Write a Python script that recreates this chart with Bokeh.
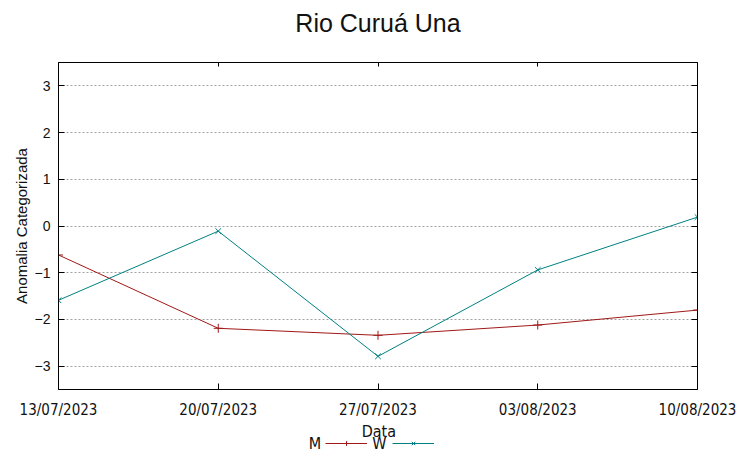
import pandas as pd
from bokeh.plotting import figure
from bokeh.layouts import column
from bokeh.models import (Legend, LegendItem, Label, FixedTicker, LinearAxis,
                          Range1d, CustomJSTickFormatter)
from bokeh.embed import file_html
from bokeh.resources import INLINE

# ---- data ----
dates = ["13/07/2023", "20/07/2023", "27/07/2023", "03/08/2023", "10/08/2023"]
m_vals = [-0.62, -2.19, -2.34, -2.12, -1.80]
w_vals = [-1.59, -0.11, -2.79, -0.94, 0.19]
y_ticks = [-3, -2, -1, 0, 1, 2, 3]
series_names = ["M", "W"]

title = "Rio Curuá Una"
y_label = "Anomalia Categorizada"
x_label = "Data"

M_COLOR = "#a01818"
W_COLOR = "#008080"
NARROW = "DejaVu Sans Condensed, Liberation Sans"
TXT = "#111111"

dt = pd.to_datetime(dates, dayfirst=True)
xms = [float(d.value // 10**6) for d in dt]

W_TOTAL, H0, H1, H2 = 752, 40, 381, 38


def strip(h):
    s = figure(width=W_TOTAL, height=h, output_backend="svg", toolbar_location=None,
               x_range=Range1d(0, W_TOTAL), y_range=Range1d(h, 0),
               x_axis_location=None, y_axis_location=None,
               min_border_left=0, min_border_right=0, min_border_top=0,
               min_border_bottom=0)
    s.outline_line_color = None
    s.grid.visible = False
    s.background_fill_color = "white"
    s.border_fill_color = "white"
    return s


# ---- title strip ----
p0 = strip(H0)
p0.add_layout(Label(x=376, y=22, text=title, text_font="Liberation Sans",
                    text_font_size="25px", text_color=TXT, text_align="center",
                    text_baseline="middle"))

# ---- main plot ----
p = figure(width=W_TOTAL, height=H1, output_backend="svg", toolbar_location=None,
           x_axis_type="datetime", x_range=Range1d(xms[0], xms[-1]),
           y_range=Range1d(-3.5, 3.5),
           min_border_left=58, min_border_right=55, min_border_top=22,
           min_border_bottom=32)
p.background_fill_color = "white"
p.border_fill_color = "white"
p.outline_line_color = "black"
p.outline_line_width = 1

labels_map = {x: s for x, s in zip(xms, dates)}

xa = p.xaxis[0]
xa.ticker = FixedTicker(ticks=xms)
xa.major_label_overrides = labels_map
xa.major_label_text_font = NARROW
xa.major_label_text_font_size = "15px"
xa.major_label_text_color = TXT
xa.major_label_standoff = 11
xa.major_tick_in = 6
xa.major_tick_out = 0
xa.minor_tick_in = 0
xa.minor_tick_out = 0
xa.axis_line_color = "black"

ya = p.yaxis[0]
ya.ticker = FixedTicker(ticks=y_ticks)
ya.major_label_text_font = "Liberation Sans"
ya.major_label_text_font_size = "14px"
ya.major_label_text_color = TXT
ya.major_label_standoff = 8
ya.major_tick_in = 6
ya.major_tick_out = 0
ya.minor_tick_in = 0
ya.minor_tick_out = 0
ya.axis_line_color = "black"
ya.axis_label = y_label
ya.axis_label_text_font = "Liberation Sans"
ya.axis_label_text_font_size = "15px"
ya.axis_label_text_font_style = "normal"
ya.axis_label_text_color = TXT
ya.axis_label_standoff = 2

blank = CustomJSTickFormatter(code="return '';")

ra = LinearAxis(ticker=FixedTicker(ticks=y_ticks), major_tick_in=6, major_tick_out=0,
                minor_tick_in=0, minor_tick_out=0, formatter=blank,
                major_label_text_font_size="1px",
                axis_line_color="black", major_label_standoff=0)
p.add_layout(ra, "right")
ta = LinearAxis(ticker=FixedTicker(ticks=xms), major_tick_in=4, major_tick_out=0,
                minor_tick_in=0, minor_tick_out=0, formatter=blank,
                major_label_text_font_size="1px",
                axis_line_color="black", major_label_standoff=0)
p.add_layout(ta, "above")

p.xgrid.visible = False
p.ygrid.ticker = FixedTicker(ticks=y_ticks)
p.ygrid.grid_line_color = "#a0a0a0"
p.ygrid.grid_line_dash = "2 2"
p.ygrid.grid_line_width = 1

p.line(xms, m_vals, line_color=M_COLOR, line_width=1)
p.scatter(xms, m_vals, marker="cross", size=9, line_color=M_COLOR, line_width=1)
p.line(xms, w_vals, line_color=W_COLOR, line_width=1)
p.scatter(xms, w_vals, marker="x", size=8, line_color=W_COLOR, line_width=1)

# ---- strip below: x-axis title and legend (gnuplot style: text then sample) ----
p2 = strip(H2)
nan = [float("nan")]
lm2 = p2.line(x=nan, y=nan, line_color=M_COLOR, line_width=1)
sm2 = p2.scatter(x=nan, y=nan, marker="cross", size=9, line_color=M_COLOR, line_width=1)
lw2 = p2.line(x=nan, y=nan, line_color=W_COLOR, line_width=1)
sw2 = p2.scatter(x=nan, y=nan, marker="x", size=8, line_color=W_COLOR, line_width=1)

legend = Legend(items=[LegendItem(label=" ", renderers=[lm2, sm2]),
                       LegendItem(label=" ", renderers=[lw2, sw2])],
                orientation="horizontal", location=(267, 10),
                glyph_width=42, glyph_height=12, label_standoff=0, label_width=0,
                spacing=25, padding=0, margin=0, border_line_color=None,
                background_fill_alpha=0, label_text_font_size="2px")
p2.add_layout(legend)

p2.add_layout(Label(x=377, y=10, text=x_label, text_font=NARROW, text_font_size="16px",
                    text_color=TXT, text_align="center", text_baseline="middle"))
for txt, xs in zip(series_names, (309, 386)):
    p2.add_layout(Label(x=xs, y=22, text=txt, text_font=NARROW, text_font_size="16px",
                        text_color=TXT, text_align="right", text_baseline="middle"))

open("out.html", "w").write(file_html(column(p0, p, p2, spacing=0), INLINE))
